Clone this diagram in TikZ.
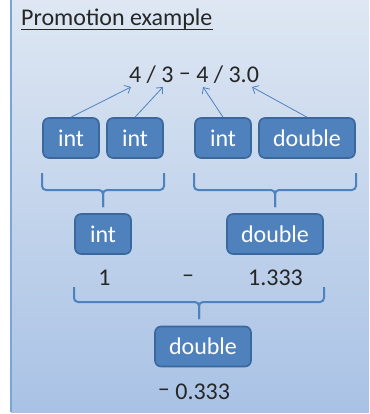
\documentclass[tikz,border=0pt]{standalone}
\usepackage{fontspec}
\setmainfont{Carlito}
\usetikzlibrary{arrows.meta}

\definecolor{accent}{HTML}{4F81BD}
\definecolor{accentdark}{HTML}{3A679C}
\definecolor{bgtop}{HTML}{DEE7F3}
\definecolor{bgbot}{HTML}{A9C2E5}
\definecolor{frameline}{HTML}{7BA3D3}

\begin{document}
\begin{tikzpicture}[x=1pt,y=-1pt,
    typebox/.style={draw=accentdark, line width=1.6pt, fill=accent, rounded corners=6pt,
      text=white, inner sep=0pt, minimum height=40pt},
    pointer/.style={accent, line width=0.8pt, -{Straight Barb[length=5pt,width=9pt]}},
    bracket/.style={accent, line width=2pt, rounded corners=4pt},
    label/.style={anchor=base, inner sep=0pt, text=black!85},
    font=\fontsize{24}{28}\selectfont]

        \useasboundingbox (0,0) rectangle (369,414);

        %Background
        \shade [top color=bgtop, bottom color=bgbot] (11,0) rectangle (369,412);
        \draw [frameline, line width=2pt] (11,0) -- (11,412);

        %Title
        \node [label, anchor=base west] (title) at (21,26) {Promotion example};
        \draw [line width=1.3pt, black!85] ([yshift=-3.5pt]title.base west) -- ([yshift=-3.5pt]title.base east);

        %Expression
        \node [label] (expr) at (194,83) {4 / 3 \raisebox{0.12em}{–} 4 / 3.0};
        \coordinate (opA) at (131,87);
        \coordinate (opB) at (163,87);
        \coordinate (opC) at (203,87);
        \coordinate (opD) at (252,87);

        %Operand types
        \node [typebox, minimum width=56pt] (intA) at (71,138) {int};
        \node [typebox, minimum width=56pt] (intB) at (135,138) {int};
        \node [typebox, minimum width=56pt] (intC) at (223,138) {int};
        \node [typebox, minimum width=96pt] (dblD) at (307,138) {double};

        \draw [pointer] (intA.north) -- (opA);
        \draw [pointer] (intB.north) -- (opB);
        \draw [pointer] (intC.north) -- (opC);
        \draw [pointer] (dblD.north) -- (opD);

        %Brackets
        \draw [bracket] (42,173) |- (103,190) -- (103,207);
        \draw [bracket] (164,173) |- (103,190) -- (103,207);
        \draw [bracket] (194,173) |- (275,190) -- (275,207);
        \draw [bracket] (356,173) |- (275,190) -- (275,207);

        %Division results
        \node [typebox, minimum width=56pt] (intE) at (103,234) {int};
        \node [typebox, minimum width=96pt] (dblF) at (275,234) {double};

        \node [label] (valE) at (104.5,285) {1};
        \node [label] (minus) at (188,285) {\raisebox{0.12em}{–}};
        \node [label] (valF) at (275.5,285) {1.333};

        %Subtraction
        \draw [bracket] (74,287) |- (199,302) -- (199,319);
        \draw [bracket] (324,287) |- (199,302) -- (199,319);

        \node [typebox, minimum width=96pt] (dblG) at (203,346.5) {double};
        \node [label] (valG) at (194,399) {\raisebox{0.12em}{–} 0.333};

\end{tikzpicture}
\end{document}
